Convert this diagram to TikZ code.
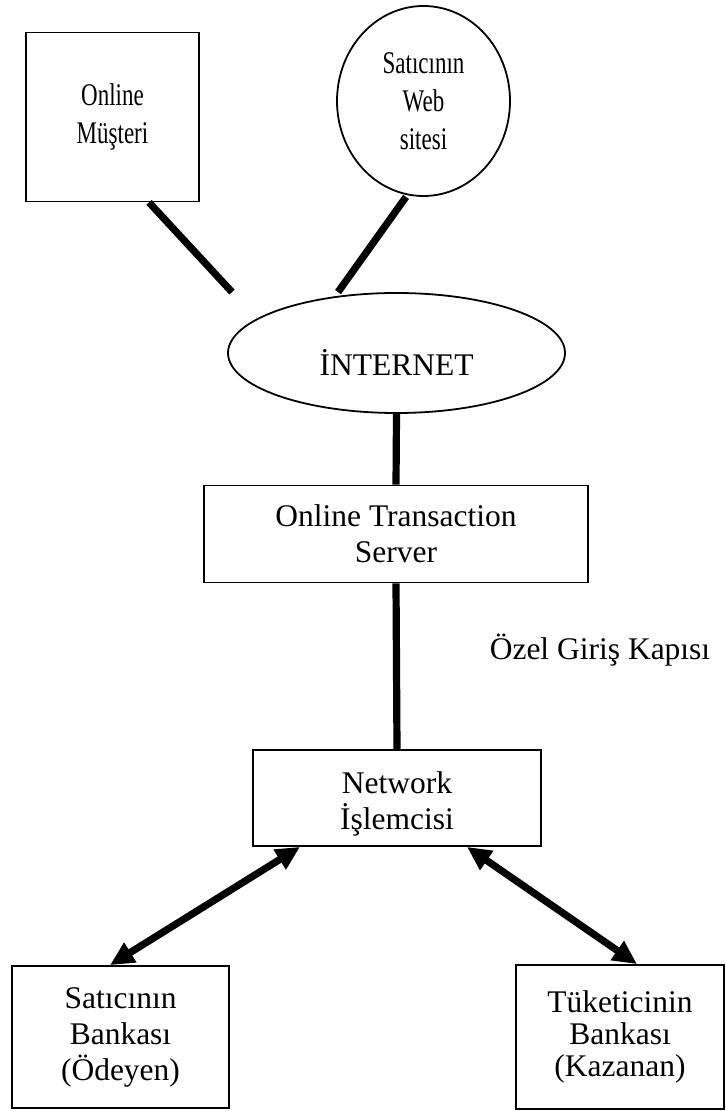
\documentclass[tikz,border=0pt]{standalone}
\usepackage{fontspec}
\setmainfont{Liberation Serif}
\newfontfamily\narrowfont[FakeStretch=0.73]{Liberation Serif}
\usetikzlibrary{arrows.meta,shapes.geometric}

\begin{document}
\begin{tikzpicture}[x=0.5pt, y=-0.5pt,
  font=\fontsize{15.75}{18}\selectfont,
  box/.style={draw, line width=0.9pt, align=center, inner sep=0pt},
  oval/.style={draw, ellipse, line width=0.9pt, align=center, inner sep=0pt},
  narrow/.style={font=\narrowfont\fontsize{15.75}{19}\selectfont},
  link/.style={line width=3.6pt},
  both/.style={line width=3.6pt, {Triangle[length=12pt,width=11pt]}-{Triangle[length=12pt,width=11pt]}}]
\useasboundingbox (0,0) rectangle (726,1111);
% top row
\node[box, narrow, minimum width=86.5pt, minimum height=84.5pt] (musteri) at (112.5,117) {Online\\Müşteri};
\node[oval, narrow, minimum width=86.5pt, minimum height=95pt] (web) at (423.5,101) {Satıcının\\Web\\sitesi};
\node[oval, minimum width=168.5pt, minimum height=60pt, text height=23pt, text depth=0pt] (internet) at (396.5,353) {İNTERNET};
% middle
\node[box, minimum width=192pt, minimum height=48.5pt] (server) at (396,534) {Online Transaction\\Server};
\node (kapi) at (600,650) {Özel Giriş Kapısı};
\node[box, minimum width=144pt, minimum height=48pt] (islemci) at (397,798) {\rule{0pt}{17pt}Network\\İşlemcisi};
% banks
\node[box, minimum width=108.5pt, minimum height=71pt] (satbanka) at (120.5,1037) {Satıcının\\Bankası\\(Ödeyen)};
\node[box, minimum width=104pt, minimum height=72pt, font=\fontsize{15.75}{16}\selectfont] (tukbanka) at (620,1037) {Tüketicinin\\Bankası\\(Kazanan)};
% connectors
\draw[link] ([xshift=18.25pt]musteri.south) -- ([xshift=-82.25pt]internet.north);
\draw[link] ([xshift=-8.75pt]web.south) -- ([xshift=-29.25pt]internet.north);
\draw[link] (internet.south) -- (server.north);
\draw[link] (server.south) -- (islemci.north);
\draw[both] ([xshift=-5.25pt]satbanka.north) -- ([xshift=-48.5pt]islemci.south);
\draw[both] ([xshift=35pt]islemci.south) -- ([xshift=8.5pt]tukbanka.north);
\end{tikzpicture}
\end{document}
